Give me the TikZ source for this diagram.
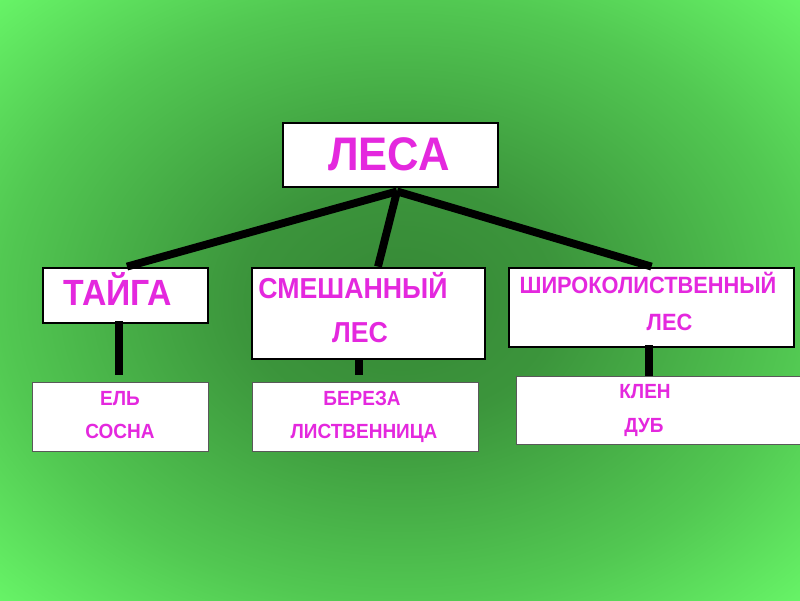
\documentclass[tikz,border=0pt]{standalone}
\usepackage{fontspec}
\setmainfont{Liberation Sans}
\usepackage{xcolor}
\usetikzlibrary{calc}

\definecolor{bgdark}{RGB}{54,136,54}
\definecolor{bgmid}{RGB}{82,200,82}
\definecolor{bgedge}{RGB}{104,246,104}
\definecolor{labelpink}{RGB}{228,40,222}
\pgfdeclareradialshading{forestglow}{\pgfpoint{0bp}{0bp}}{color(0bp)=(bgdark); color(10bp)=(bgdark!80!bgmid); color(25bp)=(bgmid); color(36bp)=(bgedge); color(50bp)=(bgedge)}

\begin{document}
\begin{tikzpicture}[
  x=0.025cm, y=-0.025cm,
  topbox/.style={
    rectangle,
    draw=black,
    line width=2pt,
    fill=white,
    inner sep=0pt
  },
  leafbox/.style={
    rectangle,
    draw=black!65,
    line width=0.7pt,
    fill=white,
    inner sep=0pt
  },
  word/.style={
    anchor=base,
    inner sep=0pt,
    text=labelpink,
    yscale=1.08,
    font=\bfseries
  },
  branch/.style={line width=5.6pt, draw=black},
  stem/.style={line width=5pt, draw=black}
]
\useasboundingbox (0,0) rectangle (800,600);
\shade[shading=forestglow] (0,0) rectangle (800,600);

% boxes
\node[topbox, minimum width=215*0.025cm, minimum height=64*0.025cm] (forests) at (390.5,155) {};
\node[topbox, minimum width=165*0.025cm, minimum height=55*0.025cm] (taiga) at (125.5,295.5) {};
\node[topbox, minimum width=233*0.025cm, minimum height=91*0.025cm] (mixed) at (368.5,313.5) {};
\node[topbox, minimum width=285*0.025cm, minimum height=79*0.025cm] (broadleaf) at (651.5,307.5) {};
\node[leafbox, minimum width=176*0.025cm, minimum height=69*0.025cm] (conifers) at (120,416.5) {};
\node[leafbox, minimum width=226*0.025cm, minimum height=69*0.025cm] (mixtrees) at (365,416.5) {};
\node[leafbox, minimum width=286*0.025cm, minimum height=68*0.025cm] (hardwoods) at (659,410) {};

% texts
\node[word, font=\bfseries\fontsize{31}{31}\selectfont] (forestsT) at (389,170) {ЛЕСА};
\node[word, font=\bfseries\fontsize{24}{24}\selectfont] (taigaT) at (118,305) {ТАЙГА};
\node[word, font=\bfseries\fontsize{19}{19}\selectfont] (mixedA) at (353,298) {СМЕШАННЫЙ};
\node[word, font=\bfseries\fontsize{19}{19}\selectfont] (mixedB) at (360,342) {ЛЕС};
\node[word, font=\bfseries\fontsize{15.5}{15.5}\selectfont] (broadA) at (648,293) {ШИРОКОЛИСТВЕННЫЙ};
\node[word, font=\bfseries\fontsize{15.5}{15.5}\selectfont] (broadB) at (669.5,330) {ЛЕС};
\node[word, font=\bfseries\fontsize{13.5}{13.5}\selectfont] (spruce) at (120,405) {ЕЛЬ};
\node[word, font=\bfseries\fontsize{13.5}{13.5}\selectfont] (pine) at (120,438) {СОСНА};
\node[word, font=\bfseries\fontsize{13.5}{13.5}\selectfont] (birch) at (362,405) {БЕРЕЗА};
\node[word, font=\bfseries\fontsize{13.5}{13.5}\selectfont] (larch) at (364,438) {ЛИСТВЕННИЦА};
\node[word, font=\bfseries\fontsize{13.5}{13.5}\selectfont] (maple) at (645,398) {КЛЕН};
\node[word, font=\bfseries\fontsize{13.5}{13.5}\selectfont] (oak) at (644,432) {ДУБ};

% connectors
\coordinate (hub) at ($(forests.south)+(6.5,3)$);
\draw[branch] (hub) -- ($(taiga.north)+(1.5,0)$);
\draw[branch] (hub) -- ($(mixed.north)+(9.5,0)$);
\draw[branch] (hub) -- (broadleaf.north);
\coordinate (taigaEnd) at ($(conifers.north)+(-1,-7)$);
\coordinate (mixedEnd) at ($(mixtrees.north)+(-6,-7)$);
\coordinate (broadEnd) at ($(hardwoods.north)+(-10,0)$);
\draw[stem] ($(taiga.south)+(-6.5,-3)$) -- (taigaEnd);
\draw[stem] ($(mixed.south)+(-9.5,-2)$) -- (mixedEnd);
\draw[stem] ($(broadleaf.south)+(-2.5,-3)$) -- (broadEnd);
\end{tikzpicture}
\end{document}
